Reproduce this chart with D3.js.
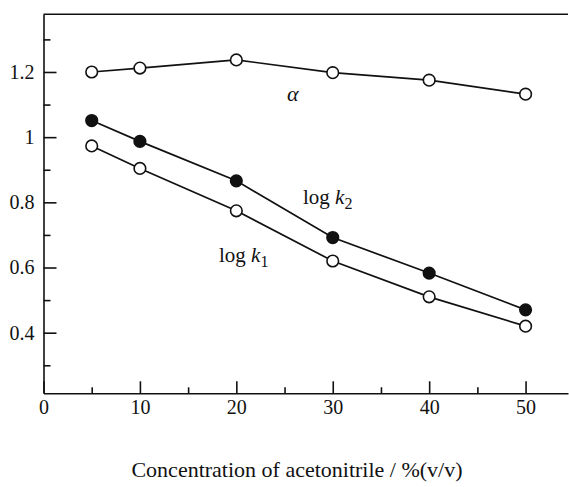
<!DOCTYPE html>
<html>
<head>
<meta charset="utf-8">
<script src="https://cdn.jsdelivr.net/npm/d3@7"></script>
<style>
  body { margin: 0; background: #fff; }
  svg text { font-family: "Liberation Serif", "Times New Roman", serif; fill: #111; }
</style>
</head>
<body>
<script>
// Data
const conc = [5, 10, 20, 30, 40, 50];
const alpha = [1.200, 1.212, 1.237, 1.198, 1.175, 1.132];
const logK2 = [1.051, 0.987, 0.866, 0.692, 0.583, 0.470];
const logK1 = [0.973, 0.904, 0.774, 0.620, 0.510, 0.420];

const xMajor = [0, 10, 20, 30, 40, 50];
const xMinor = [5, 15, 25, 35, 45];
const yMajor = [0.4, 0.6, 0.8, 1.0, 1.2];
const yMinor = [0.3, 0.5, 0.7, 0.9, 1.1, 1.3];

const W = 569, H = 487;
const serif = '"Liberation Serif", "Times New Roman", serif';
// plot box edges in px
const box = { left: 43.5, right: 568, top: 14.3, bottom: 393.3 };

const svg = d3.select('body').append('svg')
  .attr('width', W)
  .attr('height', H);

const x = d3.scaleLinear().domain([0, 54.4]).range([box.left, box.right]);
const y = d3.scaleLinear().domain([0.214, 1.377]).range([box.bottom, box.top]);

// y axis, ticks pointing inward
svg.append('g')
  .attr('transform', 'translate(' + box.left + ',0)')
  .call(d3.axisLeft(y).tickValues(yMinor).tickSize(-7).tickSizeOuter(0).tickFormat(''))
  .call(g => g.selectAll('line, path').attr('stroke', '#111').attr('stroke-width', 1.6));

svg.append('g')
  .attr('transform', 'translate(' + box.left + ',0)')
  .attr('font-family', serif)
  .call(d3.axisLeft(y).tickValues(yMajor).tickSize(-13).tickSizeOuter(0).tickPadding(9)
    .tickFormat(d => d === 1 ? '1' : d3.format('.1f')(d)))
  .call(g => g.select('.domain').remove())
  .call(g => g.selectAll('line').attr('stroke', '#111').attr('stroke-width', 1.6))
  .call(g => g.selectAll('text').style('font-size', '20px').style('font-family', serif));

// x axis
svg.append('g')
  .attr('transform', 'translate(0,' + box.bottom + ')')
  .call(d3.axisBottom(x).tickValues(xMinor).tickSize(-6).tickSizeOuter(0).tickFormat(''))
  .call(g => g.selectAll('line, path').attr('stroke', '#111').attr('stroke-width', 1.6));

svg.append('g')
  .attr('transform', 'translate(0,' + box.bottom + ')')
  .call(d3.axisBottom(x).tickValues(xMajor).tickSize(-12).tickSizeOuter(0).tickPadding(7))
  .call(g => g.select('.domain').remove())
  .call(g => g.selectAll('line').attr('stroke', '#111').attr('stroke-width', 1.6))
  .call(g => g.selectAll('text').style('font-size', '20px').style('font-family', serif));

// top frame line
svg.append('line')
  .attr('x1', box.left).attr('x2', box.right)
  .attr('y1', box.top).attr('y2', box.top)
  .attr('stroke', '#111').attr('stroke-width', 1.6);

const line = d3.line()
  .x((d, i) => x(conc[i]))
  .y(d => y(d));

function drawSeries(values, filled) {
  svg.append('path')
    .datum(values)
    .attr('d', line)
    .attr('fill', 'none')
    .attr('stroke', '#111')
    .attr('stroke-width', 1.7);

  svg.selectAll(null)
    .data(values)
    .enter().append('circle')
    .attr('cx', (d, i) => x(conc[i]))
    .attr('cy', d => y(d))
    .attr('r', 5.8)
    .attr('fill', filled ? '#111' : '#fff')
    .attr('stroke', '#111')
    .attr('stroke-width', 1.6);
}

drawSeries(alpha, false);
drawSeries(logK2, true);
drawSeries(logK1, false);

// series labels
svg.append('text')
  .attr('x', 287).attr('y', 101)
  .style('font-size', '22px')
  .style('font-style', 'italic')
  .text('α');

const k2 = svg.append('text').attr('x', 303).attr('y', 204).style('font-size', '21px');
k2.append('tspan').text('log ');
k2.append('tspan').style('font-style', 'italic').text('k');
k2.append('tspan').attr('dy', 5).style('font-size', '16px').text('2');

const k1 = svg.append('text').attr('x', 219).attr('y', 262).style('font-size', '21px');
k1.append('tspan').text('log ');
k1.append('tspan').style('font-style', 'italic').text('k');
k1.append('tspan').attr('dy', 5).style('font-size', '16px').text('1');

// axis title
svg.append('text')
  .attr('x', 297).attr('y', 477)
  .attr('text-anchor', 'middle')
  .style('font-size', '22px')
  .text('Concentration of acetonitrile / %(v/v)');
</script>
</body>
</html>
